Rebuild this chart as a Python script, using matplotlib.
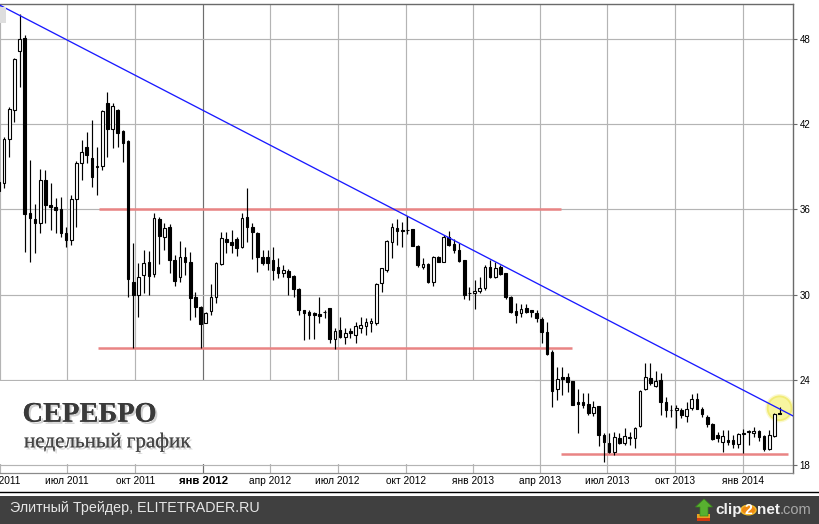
import numpy as np
import pandas as pd
import matplotlib
matplotlib.use('Agg')
import matplotlib.pyplot as plt
import matplotlib.dates as mdates
from matplotlib.patches import Rectangle, Polygon, Circle
from matplotlib.lines import Line2D
import matplotlib.patheffects as pe

plt.rcParams['font.family'] = ['Liberation Sans', 'DejaVu Sans']

# ---------------- data (weekly candles, silver) ----------------
first_week = '2011-03-30 12:00'
opens = [37.94, 37.84, 40.95, 43.01, 47.19,
         48.07, 35.77, 35.33, 35.02, 38.08, 36.31, 36.19, 36.01, 34.36, 33.85,
         36.71, 39.30, 40.43, 39.61, 38.97, 39.09, 43.49, 41.69, 43.01, 41.53,
         40.83, 30.91, 29.97, 31.38, 32.27, 31.43, 35.31, 34.08, 34.74, 32.44,
         31.26, 32.67, 32.27, 29.80, 29.14, 28.01, 28.84, 29.80, 32.15, 33.90,
         33.69, 33.90, 33.37, 35.45, 34.74, 34.32, 32.63, 32.63, 32.44, 31.92,
         31.50, 31.68, 31.31, 30.37, 28.91, 28.75, 28.68, 28.63, 28.75, 29.05,
         26.84, 27.50, 27.03, 27.45, 27.15, 27.66, 27.80, 28.01, 28.01, 30.79,
         31.73, 33.73, 34.67, 34.50, 34.55, 34.62, 33.44, 31.96, 32.15, 30.91,
         32.63, 32.32, 34.04, 33.56, 33.14, 32.44, 30.09, 30.09, 30.25, 30.44,
         31.92, 31.22, 31.92, 31.50, 29.85, 28.84, 28.68, 29.03, 28.91, 28.72,
         28.25, 27.38, 25.97, 23.32, 24.21, 24.21, 23.90, 22.45, 22.45, 22.28,
         21.62, 22.14, 20.09, 19.55, 18.92, 19.90, 19.55, 19.90, 19.86, 20.73,
         23.32, 24.09, 23.55, 23.97, 22.45, 21.87, 21.86, 21.86, 21.43, 21.98,
         22.61, 21.93, 21.38, 20.85, 20.09, 19.58, 19.74, 19.74, 19.46, 20.16,
         20.33, 20.26, 20.38, 20.02, 19.11, 20.04, 21.68]
highs = [38.20, 41.10, 43.20, 46.68, 49.78,
         48.30, 39.49, 36.40, 38.85, 38.78, 37.84, 36.79, 36.88, 34.76, 37.02,
         39.44, 40.90, 41.48, 42.31, 40.43, 43.01, 44.30, 43.49, 43.08, 41.60,
         40.90, 33.61, 32.20, 33.14, 33.09, 35.73, 35.45, 35.02, 34.97, 32.79,
         33.80, 33.37, 33.02, 30.20, 29.19, 28.79, 30.72, 32.30, 34.44, 34.44,
         34.55, 34.08, 35.77, 37.51, 35.02, 34.40, 33.14, 33.14, 33.37, 32.56,
         32.08, 31.78, 31.38, 30.44, 28.93, 28.91, 28.79, 29.85, 28.91, 29.05,
         27.62, 28.44, 27.62, 27.62, 28.08, 28.44, 28.32, 28.37, 30.79, 31.90,
         33.85, 35.07, 35.31, 35.14, 35.54, 34.65, 33.46, 32.56, 32.20, 32.72,
         32.72, 34.20, 34.50, 33.90, 33.61, 32.46, 30.55, 31.03, 31.26, 32.08,
         32.44, 32.32, 32.08, 31.52, 29.87, 29.38, 29.33, 29.33, 28.93, 28.91,
         28.44, 28.08, 26.10, 24.91, 24.91, 24.44, 23.92, 23.32, 23.03, 23.03,
         22.50, 22.16, 20.26, 20.22, 20.33, 20.22, 20.57, 20.33, 20.68, 23.27,
         25.15, 25.19, 24.63, 24.44, 22.80, 22.21, 22.21, 21.98, 22.45, 22.99,
         23.03, 22.09, 21.50, 20.92, 20.33, 20.45, 20.45, 20.09, 20.22, 20.50,
         20.45, 20.68, 20.45, 20.09, 20.45, 21.62, 22.09]
lows = [37.10, 37.50, 39.68, 42.19, 44.61,
        33.02, 32.32, 32.95, 34.36, 35.07, 34.55, 34.36, 34.08, 33.37, 33.49,
        34.78, 38.08, 39.25, 37.60, 37.02, 38.78, 39.72, 40.31, 40.43, 39.37,
        29.85, 26.21, 28.44, 30.09, 29.97, 31.26, 32.15, 33.14, 31.50, 30.60,
        30.91, 31.38, 28.20, 28.44, 26.21, 27.97, 28.56, 29.42, 32.08, 32.95,
        32.95, 32.72, 33.30, 33.73, 32.48, 31.61, 32.10, 31.73, 31.03, 31.15,
        31.22, 29.97, 29.85, 28.56, 26.79, 26.86, 26.90, 27.97, 28.35, 26.56,
        26.14, 26.93, 26.51, 26.93, 26.60, 27.26, 27.15, 27.38, 27.85, 30.20,
        31.61, 32.56, 33.49, 33.37, 34.27, 33.40, 31.96, 31.78, 30.79, 30.60,
        32.30, 32.30, 33.45, 32.95, 32.32, 29.67, 29.62, 28.97, 30.09, 30.32,
        31.15, 31.20, 31.38, 29.67, 28.70, 27.97, 28.44, 28.70, 28.44, 28.08,
        26.56, 25.74, 22.05, 22.56, 22.92, 23.14, 22.21, 20.26, 21.98, 21.50,
        21.43, 19.32, 18.21, 18.80, 18.68, 19.46, 19.39, 19.39, 19.16, 20.68,
        23.30, 23.62, 23.46, 21.50, 21.38, 21.38, 20.57, 21.27, 21.03, 21.86,
        21.90, 21.38, 20.68, 19.74, 19.62, 18.92, 19.39, 19.16, 19.16, 18.80,
        19.39, 19.97, 19.69, 18.99, 19.04, 19.97, 21.55]
closes = [37.30, 40.95, 43.06, 46.59, 48.00,
          35.66, 35.38, 35.07, 38.08, 36.31, 36.19, 35.96, 34.36, 33.85, 36.71,
          39.30, 40.07, 39.84, 38.31, 39.06, 42.94, 41.69, 43.30, 41.41, 40.71,
          31.07, 29.97, 31.26, 32.20, 31.33, 35.38, 34.15, 34.67, 32.44, 30.98,
          32.67, 32.32, 29.73, 29.14, 27.90, 28.72, 29.80, 32.20, 33.97, 33.69,
          33.47, 33.26, 35.38, 34.78, 34.39, 32.63, 32.20, 32.20, 31.73, 31.50,
          31.73, 31.26, 30.37, 28.91, 28.68, 28.56, 28.58, 28.49, 28.74, 26.84,
          27.45, 27.03, 27.31, 27.31, 27.78, 27.85, 28.08, 28.13, 30.72, 31.85,
          33.77, 34.74, 34.50, 34.49, 34.54, 33.44, 32.08, 32.15, 30.91, 32.63,
          32.32, 34.08, 33.49, 33.14, 32.37, 29.97, 30.08, 30.25, 30.44, 31.92,
          31.22, 31.85, 31.43, 29.80, 28.75, 28.56, 28.96, 28.75, 28.75, 28.32,
          27.38, 25.81, 23.22, 24.02, 24.07, 23.85, 22.21, 22.28, 22.21, 21.67,
          22.05, 20.09, 19.62, 18.92, 19.93, 19.55, 20.02, 19.97, 20.57, 23.22,
          24.16, 23.78, 23.90, 22.45, 21.86, 21.86, 21.98, 21.50, 21.93, 22.61,
          21.93, 21.55, 20.85, 19.81, 19.86, 20.04, 19.58, 19.46, 20.16, 20.22,
          20.34, 20.40, 19.97, 19.08, 20.09, 21.58, 21.57]

tick_dates = ['2011-04-01', '2011-07-01', '2011-10-01', '2012-01-01',
              '2012-04-01', '2012-07-01', '2012-10-01', '2013-01-01',
              '2013-04-01', '2013-07-01', '2013-10-01', '2014-01-01']
tick_labels = ['апр 2011', 'июл 2011', 'окт 2011', 'янв 2012',
               'апр 2012', 'июл 2012', 'окт 2012', 'янв 2013',
               'апр 2013', 'июл 2013', 'окт 2013', 'янв 2014']
bold_tick = 'янв 2012'
y_ticks = [18, 24, 30, 36, 42, 48]

# horizontal levels: (start, end, price)
level_starts = ['2011-08-13', '2011-08-11', '2013-04-30']
level_ends = ['2013-04-30', '2013-05-14', '2014-03-03']
level_prices = [36.0, 26.23, 18.78]

trend_dates = ['2011-04-01', '2014-03-10']
trend_prices = [50.40, 21.43]

highlight_date = '2014-02-19 10:00'
highlight_price = 21.98

title_main = 'СЕРЕБРО'
title_sub = 'недельный график'
footer_text = 'Элитный Трейдер, ELITETRADER.RU'

# ---------------- figure ----------------
W, H = 819, 524
fig = plt.figure(figsize=(W / 100, H / 100), dpi=100)
fig.patch.set_facecolor('white')


def fx(px):
    return px / W


def fy(py):
    return 1 - py / H


ax_left, ax_right, ax_top, ax_bottom = 0.0, 793.3, 4.0, 473.3
ax = fig.add_axes([fx(ax_left), fy(ax_bottom), fx(ax_right - ax_left),
                   (ax_bottom - ax_top) / H])
ax.set_facecolor('white')

x = mdates.date2num(pd.date_range(first_week, periods=len(opens), freq='7D'))
o = np.array(opens)
h = np.array(highs)
l = np.array(lows)
c = np.array(closes)

xmin = mdates.date2num(pd.Timestamp('2011-04-01'))
xmax = mdates.date2num(pd.Timestamp('2014-03-10'))
ax.set_xlim(xmin, xmax)
ax.set_ylim(17.394, 50.489)

# grid
tick_x = mdates.date2num(pd.to_datetime(tick_dates))
for tx, lab in zip(tick_x, tick_labels):
    col = '#6e6e6e' if lab == bold_tick else '#b4b4b4'
    ax.axvline(tx, color=col, lw=0.85, zorder=0.5)
for yt in y_ticks:
    ax.axhline(yt, color='#b4b4b4', lw=0.85, zorder=0.5)

# white label box hiding the vertical grid
box_end = mdates.date2num(pd.Timestamp('2013-03-25'))
ax.add_patch(Rectangle((xmin, 18.07), box_end - xmin, 5.86,
                       facecolor='white', edgecolor='none', zorder=0.7))

# highlight circle (soft yellow spot)
hx = mdates.date2num(pd.Timestamp(highlight_date))
ax.scatter([hx], [highlight_price], s=420, color='#f3ec74', alpha=0.35,
           edgecolors='none', zorder=1.5)
ax.scatter([hx], [highlight_price], s=340, color='#f1ea6e', alpha=0.9,
           edgecolors='none', zorder=1.5)
ax.scatter([hx], [highlight_price], s=250, color='#f8f5a0', alpha=1.0,
           edgecolors='none', zorder=1.5)

# levels
for s0, s1, p in zip(level_starts, level_ends, level_prices):
    ax.plot(mdates.date2num(pd.to_datetime([s0, s1])), [p, p],
            color='#e98484', lw=1.8, solid_capstyle='butt', zorder=2)

# candles
ax.vlines(x, l, h, color='black', lw=0.85, zorder=3)
body_bottom = np.minimum(o, c)
body_h = np.maximum(np.abs(c - o), 0.03)
face = ['white' if cc >= oo else 'black' for oo, cc in zip(o, c)]
ax.bar(x, body_h, bottom=body_bottom, width=3.6, facecolor=face,
       edgecolor='black', linewidth=0.8, zorder=4)

# trend line
ax.plot(mdates.date2num(pd.to_datetime(trend_dates)), trend_prices,
        color='#1a1aff', lw=0.95, zorder=5)

# axes styling
ax.spines['left'].set_visible(False)
ax.spines['top'].set_color('#6a6a6a')
ax.spines['top'].set_linewidth(1.0)
ax.spines['right'].set_color('#6a6a6a')
ax.spines['right'].set_linewidth(1.0)
ax.spines['bottom'].set_color('#8a8a8a')
ax.spines['bottom'].set_linewidth(0.9)

ax.yaxis.tick_right()
ax.set_yticks(y_ticks)
ax.set_yticklabels([str(v) for v in y_ticks])
ax.tick_params(axis='y', length=3.2, width=0.8, color='#6a6a6a',
               labelsize=7, pad=1.2, labelcolor='black')
ax.set_xticks(tick_x)
ax.set_xticklabels(tick_labels)
ax.tick_params(axis='x', length=0, pad=2.2, labelsize=7.3, labelcolor='black')
for t in ax.get_xticklabels():
    if t.get_text() == bold_tick:
        t.set_fontweight('bold')
        t.set_fontsize(8.2)

# title texts
shadow = [pe.withSimplePatchShadow(offset=(1.5, -1.5), shadow_rgbFace='#999999',
                                   alpha=0.45), pe.Normal()]
fig.text(fx(22.5), fy(421.7), title_main, fontsize=20.5, fontweight='bold',
         family=['Liberation Serif', 'DejaVu Serif'], color='#3a3a3a',
         ha='left', va='baseline', path_effects=shadow, zorder=10)
fig.text(fx(24), fy(447.3), title_sub, fontsize=15.2,
         family=['Liberation Serif', 'DejaVu Serif'], color='#454545',
         ha='left', va='baseline', path_effects=shadow, zorder=10)

# bottom lines / footer
fig.add_artist(Line2D([0, 1], [fy(491.7), fy(491.7)], transform=fig.transFigure,
                      color='black', lw=1.0))
fig.add_artist(Rectangle((0, 0), 1, fy(496), transform=fig.transFigure,
                         facecolor='#404040', edgecolor='none'))
fig.text(fx(10), fy(508), footer_text, fontsize=10.3, color='#e6e6e6',
         ha='left', va='center')

# small button at top-left
fig.add_artist(Rectangle((fx(0), fy(23)), fx(6), 16 / H, transform=fig.transFigure,
                         facecolor='#dedede', edgecolor='none'))

# clip2net logo
fig.add_artist(Rectangle((fx(697), fy(521)), fx(13), 7 / H, transform=fig.transFigure,
                         facecolor='#e8a020', edgecolor='none'))
fig.add_artist(Rectangle((fx(697), fy(521)), fx(13), 3 / H, transform=fig.transFigure,
                         facecolor='#d03a10', edgecolor='none'))
arrow = [(704, 499), (712.5, 507), (708, 507), (708, 516), (700, 516), (700, 507), (695.5, 507)]
fig.add_artist(Polygon([(fx(a), fy(b)) for a, b in arrow], closed=True,
                       transform=fig.transFigure, facecolor='#58b030',
                       edgecolor='#3a8a1a', lw=0.5))
fig.text(fx(715), fy(510), 'clip', fontsize=11, fontweight='bold', color='#f2f2f2',
         ha='left', va='center')
fig.add_artist(Circle((fx(748.5), fy(510)), 7.5 / W, transform=fig.transFigure,
                      facecolor='#f08a10', edgecolor='#f6c030', lw=1))
fig.text(fx(748.5), fy(510), '2', fontsize=10, fontweight='bold', color='white',
         ha='center', va='center')
fig.text(fx(757), fy(510), 'net', fontsize=11, fontweight='bold', color='#f2f2f2',
         ha='left', va='center')
fig.text(fx(780), fy(510), '.com', fontsize=10.5, color='#a8a8a8',
         ha='left', va='center')

fig.savefig('out.png', dpi=100)
